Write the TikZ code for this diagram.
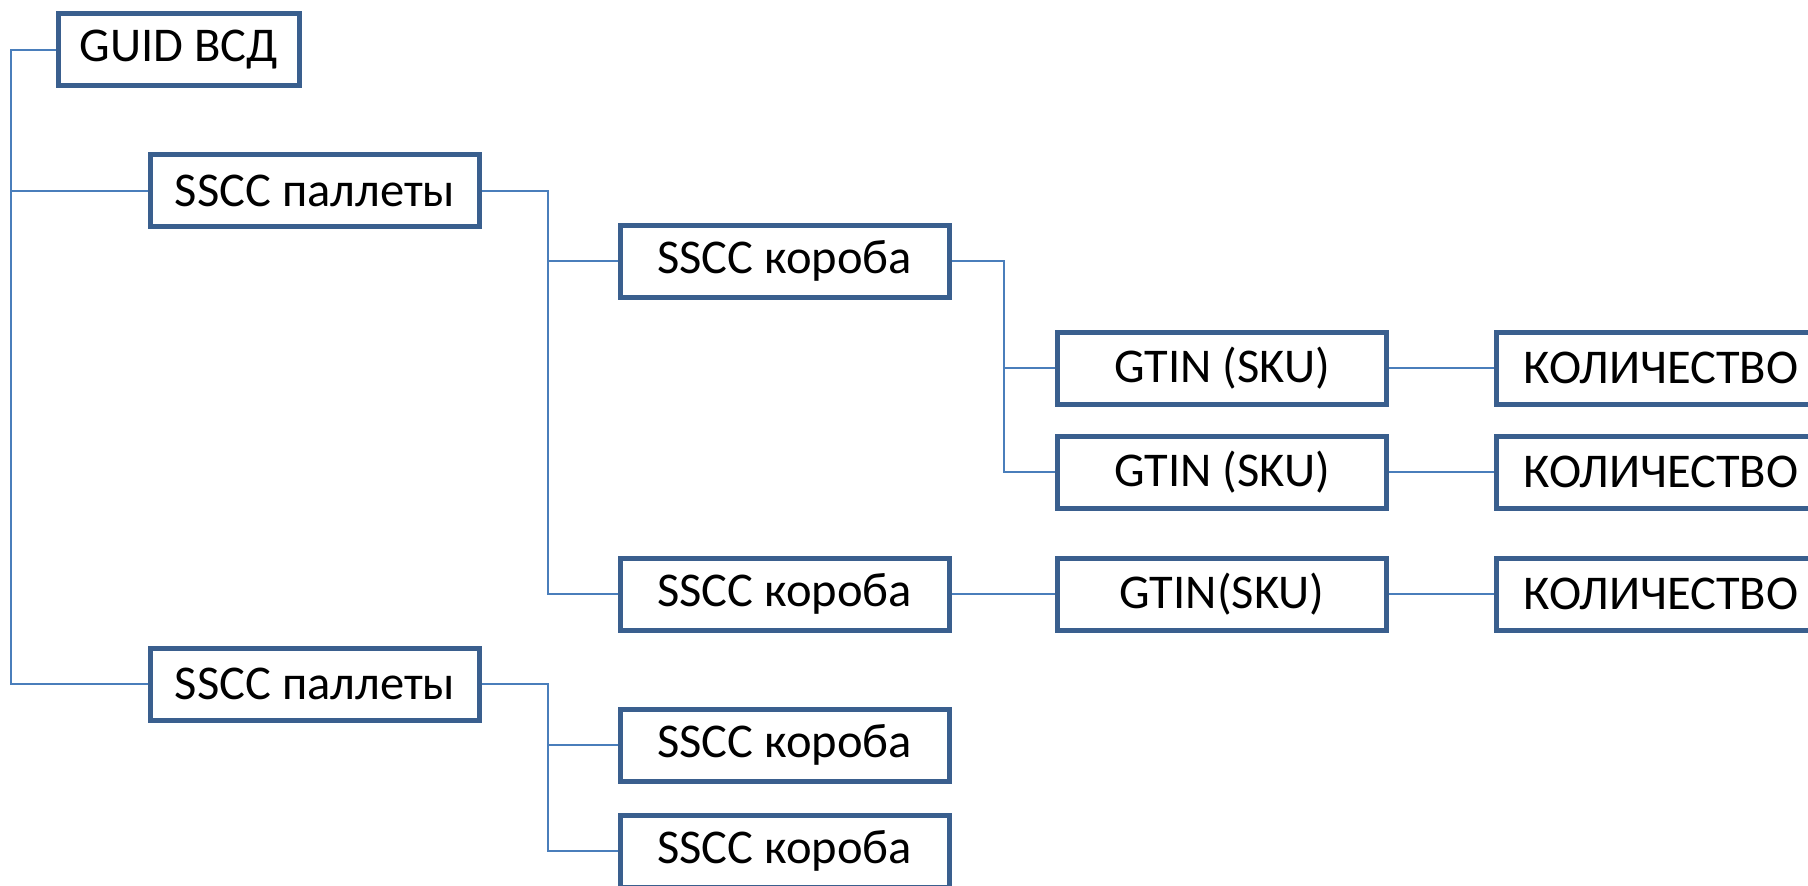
\documentclass[tikz,border=0pt]{standalone}
\usepackage{fontspec}
\setmainfont{Carlito}
\definecolor{boxblue}{HTML}{3A5F8E}
\definecolor{linkblue}{HTML}{4A7EBB}

\begin{document}
\begin{tikzpicture}[x=1pt,y=-1pt,
    item/.style={draw=boxblue,line width=5pt,fill=white,inner sep=0,
        minimum width=\boxwidth pt,minimum height=\boxheight pt,
        font=\boxfontsize},
    link/.style={draw=linkblue,line width=2pt}]
    \pgfmathsetmacro{\boxwidth}{329}
    \pgfmathsetmacro{\boxheight}{72}
    \pgfmathsetmacro{\guidwidth}{241}
    \providecommand{\boxfontsize}{\fontsize{48.5pt}{58pt}\selectfont}
    \useasboundingbox (0,0) rectangle (1808,886);
    \clip (0,0) rectangle (1808,886);
    % root and pallets
    \node[item,minimum width=\guidwidth pt] (guid) at (179,49.5) {GUID ВСД};
    \node[item] (pal1) at (315,190.5) {SSCC паллеты};
    \node[item] (pal2) at (315,684) {SSCC паллеты};
    % boxes
    \node[item] (kor1) at (784.5,261) {SSCC короба};
    \node[item] (kor2) at (784.5,594) {SSCC короба};
    \node[item] (kor3) at (784.5,745) {SSCC короба};
    \node[item] (kor4) at (784.5,851) {SSCC короба};
    % goods and quantities
    \node[item] (gtin1) at (1222,368) {GTIN (SKU)};
    \node[item] (gtin2) at (1222,472) {GTIN (SKU)};
    \node[item] (gtin3) at (1222,594) {GTIN(SKU)};
    \node[item] (kol1) at (1661,368) {КОЛИЧЕСТВО\hspace{40pt}};
    \node[item] (kol2) at (1661,472) {КОЛИЧЕСТВО\hspace{40pt}};
    \node[item] (kol3) at (1661,594) {КОЛИЧЕСТВО\hspace{40pt}};
    % connectors
    \draw[link] (guid.west) -- ++(-45,0) coordinate (bus0) |- (pal2.west);
    \draw[link] (bus0 |- pal1.west) -- (pal1.west);
    \draw[link] (pal1.east) -- ++(66,0) coordinate (bus1) |- (kor2.west);
    \draw[link] (bus1 |- kor1.west) -- (kor1.west);
    \draw[link] (kor1.east) -- ++(52,0) coordinate (bus2) |- (gtin2.west);
    \draw[link] (bus2 |- gtin1.west) -- (gtin1.west);
    \draw[link] (pal2.east) -- ++(66,0) coordinate (bus3) |- (kor4.west);
    \draw[link] (bus3 |- kor3.west) -- (kor3.west);
    \draw[link] (kor2.east) -- (gtin3.west);
    \draw[link] (gtin1.east) -- (kol1.west);
    \draw[link] (gtin2.east) -- (kol2.west);
    \draw[link] (gtin3.east) -- (kol3.west);
\end{tikzpicture}
\end{document}
